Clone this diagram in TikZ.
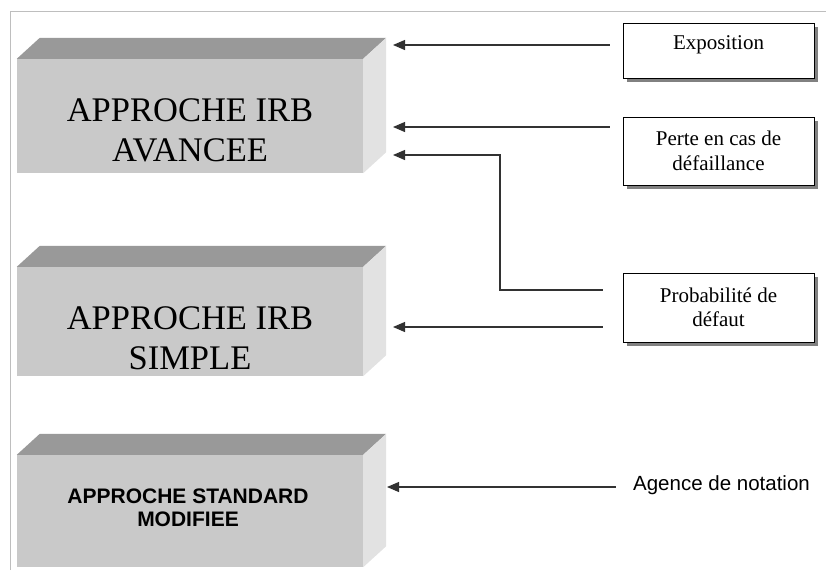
\documentclass[tikz,border=0pt]{standalone}
\usepackage{fontspec}
\setmainfont{Liberation Serif}
\setsansfont{Liberation Sans}
\usepackage{tikz}
\usetikzlibrary{arrows.meta,calc,shadows}
\definecolor{blkFront}{RGB}{201,201,201}
\definecolor{blkTop}{RGB}{153,153,153}
\definecolor{blkSide}{RGB}{226,226,226}
\definecolor{frameGray}{RGB}{190,190,190}
\definecolor{lineGray}{RGB}{50,50,50}

\tikzset{
  face/.style={fill=blkFront,minimum width=346pt,inner sep=0pt},
  bigtxt/.style={font=\fontsize{34.5}{40}\selectfont,align=center,inner sep=0pt},
  stdtxt/.style={font=\sffamily\bfseries\fontsize{21}{23.5}\selectfont,align=center,inner sep=0pt},
  srcbox/.style={draw=black,line width=0.9pt,fill=white,minimum width=191pt,inner sep=0pt,
    align=center,font=\fontsize{21}{24.5}\selectfont,
    drop shadow={shadow xshift=3.5pt,shadow yshift=-3.5pt,fill=black!55,opacity=0.9}},
  arr/.style={-{Triangle[length=12pt,width=10pt]},line width=1.1pt,lineGray}
}

\begin{document}
\begin{tikzpicture}[x=1pt,y=-1pt]
  \useasboundingbox (0,0) rectangle (826,570);
  \draw[frameGray,line width=0.9pt] (10,570) -- (10,11) -- (826,11);

  % blocs en relief
  \node[face,minimum height=114pt] (avancee) at (190,116) {};
  \node[face,minimum height=109pt] (simple) at (190,321.5) {};
  \node[face,minimum height=112pt] (standard) at (190,511) {};
  \foreach \b in {avancee,simple,standard} {
    \fill[blkTop] (\b.north west) -- ++(23,-21) -- ($(\b.north east)+(23,-21)$)
      -- (\b.north east) -- cycle;
    \fill[blkSide] (\b.north east) -- ++(23,-21) -- ($(\b.south east)+(23,-21)$)
      -- (\b.south east) -- cycle;
  }
  \node[bigtxt] (avanceeT) at (190,130) {APPROCHE IRB\\AVANCEE};
  \node[bigtxt] (simpleT) at (190,338) {APPROCHE IRB\\SIMPLE};
  \node[stdtxt] (standardT) at (188,508) {APPROCHE STANDARD\\MODIFIEE};

  % sources
  \node[srcbox,minimum height=55pt,text depth=15pt] (expo) at (718.5,50.5) {Exposition};
  \node[srcbox,minimum height=68pt] (perte) at (718.5,151) {Perte en cas de\\défaillance};
  \node[srcbox,minimum height=69pt] (proba) at (718.5,307.5) {Probabilité de\\défaut};
  \node[font=\sffamily\fontsize{20.5}{24}\selectfont,inner sep=0pt] (agence) at (721.5,485)
    {Agence de notation};

  \coordinate (inExpo) at (393,45);
  \coordinate (inPerte) at (393,127);
  \coordinate (inPD) at (393,155);
  \coordinate (bendPD) at (500,290);
  \coordinate (inSimple) at (393,327);
  \coordinate (inStd) at (387,487);

  \draw[arr,shorten <=13pt] (expo.west |- inExpo) -- (inExpo);
  \draw[arr,shorten <=13pt] (perte.west |- inPerte) -- (inPerte);
  \draw[arr,shorten <=20pt] (proba.west |- bendPD) -- (bendPD) |- (inPD);
  \draw[arr,shorten <=20pt] (proba.west |- inSimple) -- (inSimple);
  \draw[arr,shorten <=17pt] (agence.west |- inStd) -- (inStd);
\end{tikzpicture}
\end{document}
